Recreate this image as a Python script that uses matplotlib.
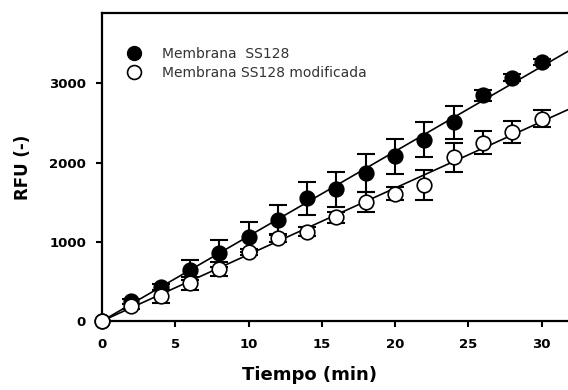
import numpy as np
import matplotlib
matplotlib.use("Agg")
import matplotlib.pyplot as plt
from matplotlib.lines import Line2D

# ---- data ----
tiempo = [0, 2, 4, 6, 8, 10, 12, 14, 16, 18, 20, 22, 24, 26, 28, 30]
rfu_ss128 = [0, 250, 430, 650, 855, 1065, 1275, 1550, 1665, 1865, 2080, 2290, 2510, 2850, 3075, 3270]
err_ss128 = [0, 30, 40, 126, 168, 189, 189, 210, 223, 240, 223, 223, 210, 70, 50, 40]
rfu_mod = [0, 185, 310, 475, 655, 870, 1045, 1130, 1310, 1505, 1610, 1715, 2065, 2250, 2390, 2555]
err_mod = [0, 30, 85, 85, 85, 40, 50, 60, 70, 126, 80, 189, 189, 147, 139, 105]
labels = ["Membrana  SS128", "Membrana SS128 modificada"]
xticks = [0, 5, 10, 15, 20, 25, 30]
yticks = [0, 1000, 2000, 3000]

plt.rcParams['font.family'] = ['DejaVu Sans']

fig = plt.figure(figsize=(5.68, 3.90), dpi=100)
ax = fig.add_axes([102/568, 1-321/390, 1-102/568, (321-13)/390])

xmax = 31.8
ax.set_xlim(0, xmax)
ax.set_ylim(0, 3890)

x = np.array(tiempo, dtype=float)
for yv in (rfu_ss128, rfu_mod):
    y = np.array(yv, dtype=float)
    slope = np.sum(x*y)/np.sum(x*x)
    xx = np.array([0, xmax+1])
    ax.plot(xx, slope*xx, color='black', lw=1.2, zorder=2)

ax.errorbar(tiempo, rfu_ss128, yerr=err_ss128, fmt='none', ecolor='black',
            elinewidth=1.5, capsize=6.5, capthick=1.5, zorder=3)
ax.errorbar(tiempo, rfu_mod, yerr=err_mod, fmt='none', ecolor='black',
            elinewidth=1.5, capsize=6.5, capthick=1.5, zorder=3)
ax.plot(tiempo, rfu_ss128, 'o', ms=10.5, mfc='black', mec='black', mew=1.2,
        zorder=4, clip_on=False, ls='none')
ax.plot(tiempo, rfu_mod, 'o', ms=10.5, mfc='white', mec='black', mew=1.2,
        zorder=5, clip_on=False, ls='none')

for s in ['top', 'left', 'bottom']:
    ax.spines[s].set_linewidth(1.6)
ax.spines['right'].set_visible(False)

ax.set_xticks(xticks)
ax.set_yticks(yticks)
ax.tick_params(axis='both', direction='out', length=4.5, width=1.5,
               labelsize=9.5, pad=7)
for t in ax.get_xticklabels() + ax.get_yticklabels():
    t.set_fontweight('bold')
ax.tick_params(axis='x', pad=8)

ax.set_xlabel("Tiempo (min)", fontsize=13, fontweight='bold', labelpad=9)
ax.xaxis.set_label_coords((310-102)/466, -0.145)
ax.set_ylabel("RFU (-)", fontsize=12, fontweight='bold', labelpad=12)

handles = [Line2D([], [], marker='o', ls='none', ms=10, mfc='black', mec='black'),
           Line2D([], [], marker='o', ls='none', ms=10, mfc='white', mec='black', mew=1.2)]
leg = ax.legend(handles, labels, loc='upper left', bbox_to_anchor=(0.046, 0.89),
                frameon=False, fontsize=10, handletextpad=1.25, labelspacing=0.35,
                borderaxespad=0, borderpad=0, handlelength=1.5)
for t in leg.get_texts():
    t.set_color('#333333')

fig.savefig("out.png", dpi=100)
